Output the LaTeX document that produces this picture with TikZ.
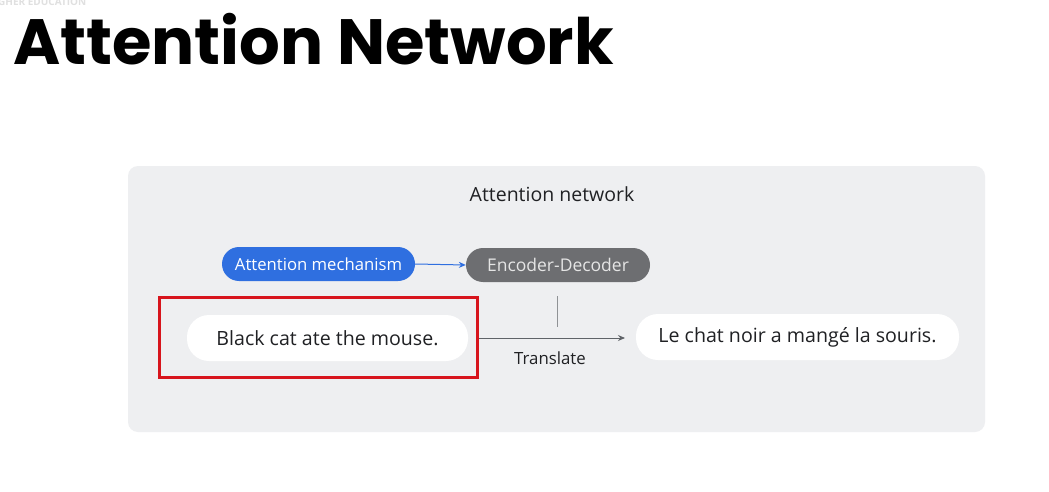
\documentclass[tikz,border=0pt]{standalone}
\usepackage{fontspec}
\setmainfont{Open Sans}
\newfontfamily\titlefont{Poppins}
\usetikzlibrary{arrows.meta}
\definecolor{panelbg}{HTML}{EEEFF1}
\definecolor{pillblue}{HTML}{2F6FE0}
\definecolor{pillgray}{HTML}{6D6E71}
\definecolor{inktext}{HTML}{202124}
\definecolor{linegray}{HTML}{5F6368}
\definecolor{framered}{HTML}{D7141C}
\tikzset{
  pill/.style={rounded corners=17pt, minimum height=34pt, inner xsep=10pt},
  sentence/.style={fill=white, rounded corners=22pt, minimum height=46pt, inner xsep=20pt, text=inktext, font=\fontsize{19.6}{22}\selectfont},
  conn/.style={line width=1pt, -{Stealth[length=7pt,width=6pt]}},
}
\begin{document}
\begin{tikzpicture}[x=1pt,y=-1pt]
  \useasboundingbox (0,0) rectangle (1049,492);
  \clip (0,0) rectangle (1049,492);
  \fill[white] (0,0) rectangle (1049,492);
  % faint header strip
  \node[anchor=base west, text=black!12, font=\bfseries\fontsize{10}{12}\selectfont, inner sep=0pt] (hdr) at (-2,6) {GHER EDUCATION};
  % page title
  \node[anchor=base west, inner sep=0pt, font=\titlefont\bfseries\fontsize{64}{70}\selectfont] (title) at (13,65) {Attention Network};
  % panel
  \node[fill=panelbg, rounded corners=10pt, minimum width=857pt, minimum height=266pt, inner sep=0pt] (panel) at (556.5,299) {};
  \node[text=inktext, font=\fontsize{19.5}{22}\selectfont] (ptitle) at (552,194) {Attention network};
  % components
  \node[pill, fill=pillblue, text=white, minimum width=193pt, font=\fontsize{16.7}{19}\selectfont] (attn) at (318.5,264) {Attention mechanism};
  \node[pill, fill=pillgray, text=white!90!black, minimum width=184pt, font=\fontsize{17.5}{20}\selectfont] (encdec) at (558,265) {Encoder-Decoder};
  \draw[conn, pillblue] (attn.east) -- (encdec.west);
  % sentences
  \node[sentence, minimum width=281pt] (src) at (327.5,338) {Black cat ate the mouse.};
  \node[sentence, minimum width=323pt] (dst) at (797.5,337) {Le chat noir a mangé la souris.};
  \node[draw=framered, line width=2.5pt, minimum width=318pt, minimum height=80pt, inner sep=0pt] (frame) at (318.5,337.5) {};
  \coordinate (arrowend) at (625,338);
  \draw[conn, linegray] (frame.east |- src) -- (arrowend);
  \coordinate (stubtop) at (557,296);
  \coordinate (stubbot) at (557,327);
  \draw[linegray!70, line width=1pt] (stubtop) -- (stubbot);
  \node[text=inktext, font=\fontsize{16.8}{19}\selectfont] (tr) at (550,358) {Translate};
\end{tikzpicture}
\end{document}
